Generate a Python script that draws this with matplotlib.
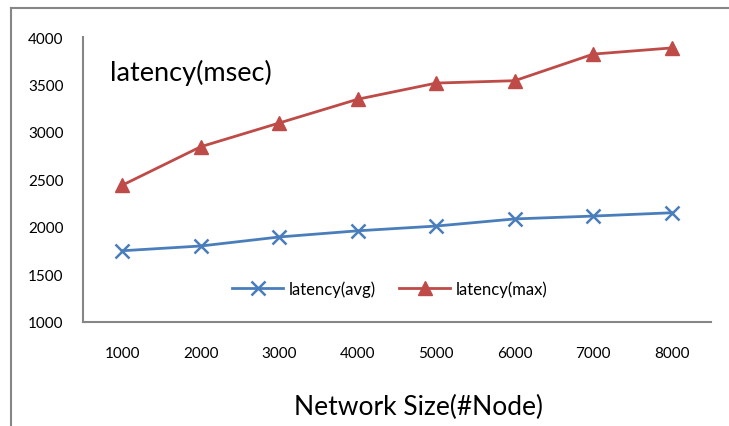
import matplotlib.pyplot as plt
from matplotlib.lines import Line2D

plt.rcParams['font.family'] = ['Lato', 'DejaVu Sans']

nodes = [1000, 2000, 3000, 4000, 5000, 6000, 7000, 8000]
lat_avg = [1750, 1800, 1895, 1960, 2010, 2085, 2115, 2150]
lat_max = [2440, 2845, 3095, 3345, 3515, 3540, 3820, 3885]

blue = '#4A7EBB'
red = '#BE4B48'
gray = '#868686'

fig = plt.figure(figsize=(7.29, 4.27), dpi=100)
ax = fig.add_axes([83 / 729, 1 - 323 / 427, 628 / 729, 285 / 427])

ax.plot(nodes, lat_avg, color=blue, lw=2, marker='x', markersize=10,
        markeredgewidth=1.8, label='latency(avg)')
ax.plot(nodes, lat_max, color=red, lw=2, marker='^', markersize=10,
        label='latency(max)')

ax.set_xlim(500, 8500)
ax.set_ylim(1000, 4000)
ax.set_xticks(nodes)
ax.set_yticks([1000, 1500, 2000, 2500, 3000, 3500, 4000])
ax.tick_params(length=0, labelsize=11)
ax.tick_params(axis='y', pad=14)
ax.tick_params(axis='x', pad=17)

for s in ['top', 'right']:
    ax.spines[s].set_visible(False)
for s in ['left', 'bottom']:
    ax.spines[s].set_color(gray)
    ax.spines[s].set_linewidth(1.5)

ax.text(110 / 729, 1 - 73 / 427, 'latency(msec)', transform=fig.transFigure,
        fontsize=19.5, va='center', ha='left')
fig.text(418 / 729, 1 - 407 / 427, 'Network Size(#Node)', fontsize=19,
         ha='center', va='center')

ax.legend(loc='center', bbox_to_anchor=(0.488, 0.116), ncol=2, frameon=False,
          fontsize=12, handlelength=3.1, handletextpad=0.3, columnspacing=1.4)

# outer chart border
fig.add_artist(Line2D([11 / 729, 11 / 729], [0, 1 - 9 / 427],
                      transform=fig.transFigure, color=gray, lw=1.5))
fig.add_artist(Line2D([11 / 729, 1], [1 - 9 / 427, 1 - 9 / 427],
                      transform=fig.transFigure, color=gray, lw=1.5))

fig.savefig('out.png', dpi=100)
